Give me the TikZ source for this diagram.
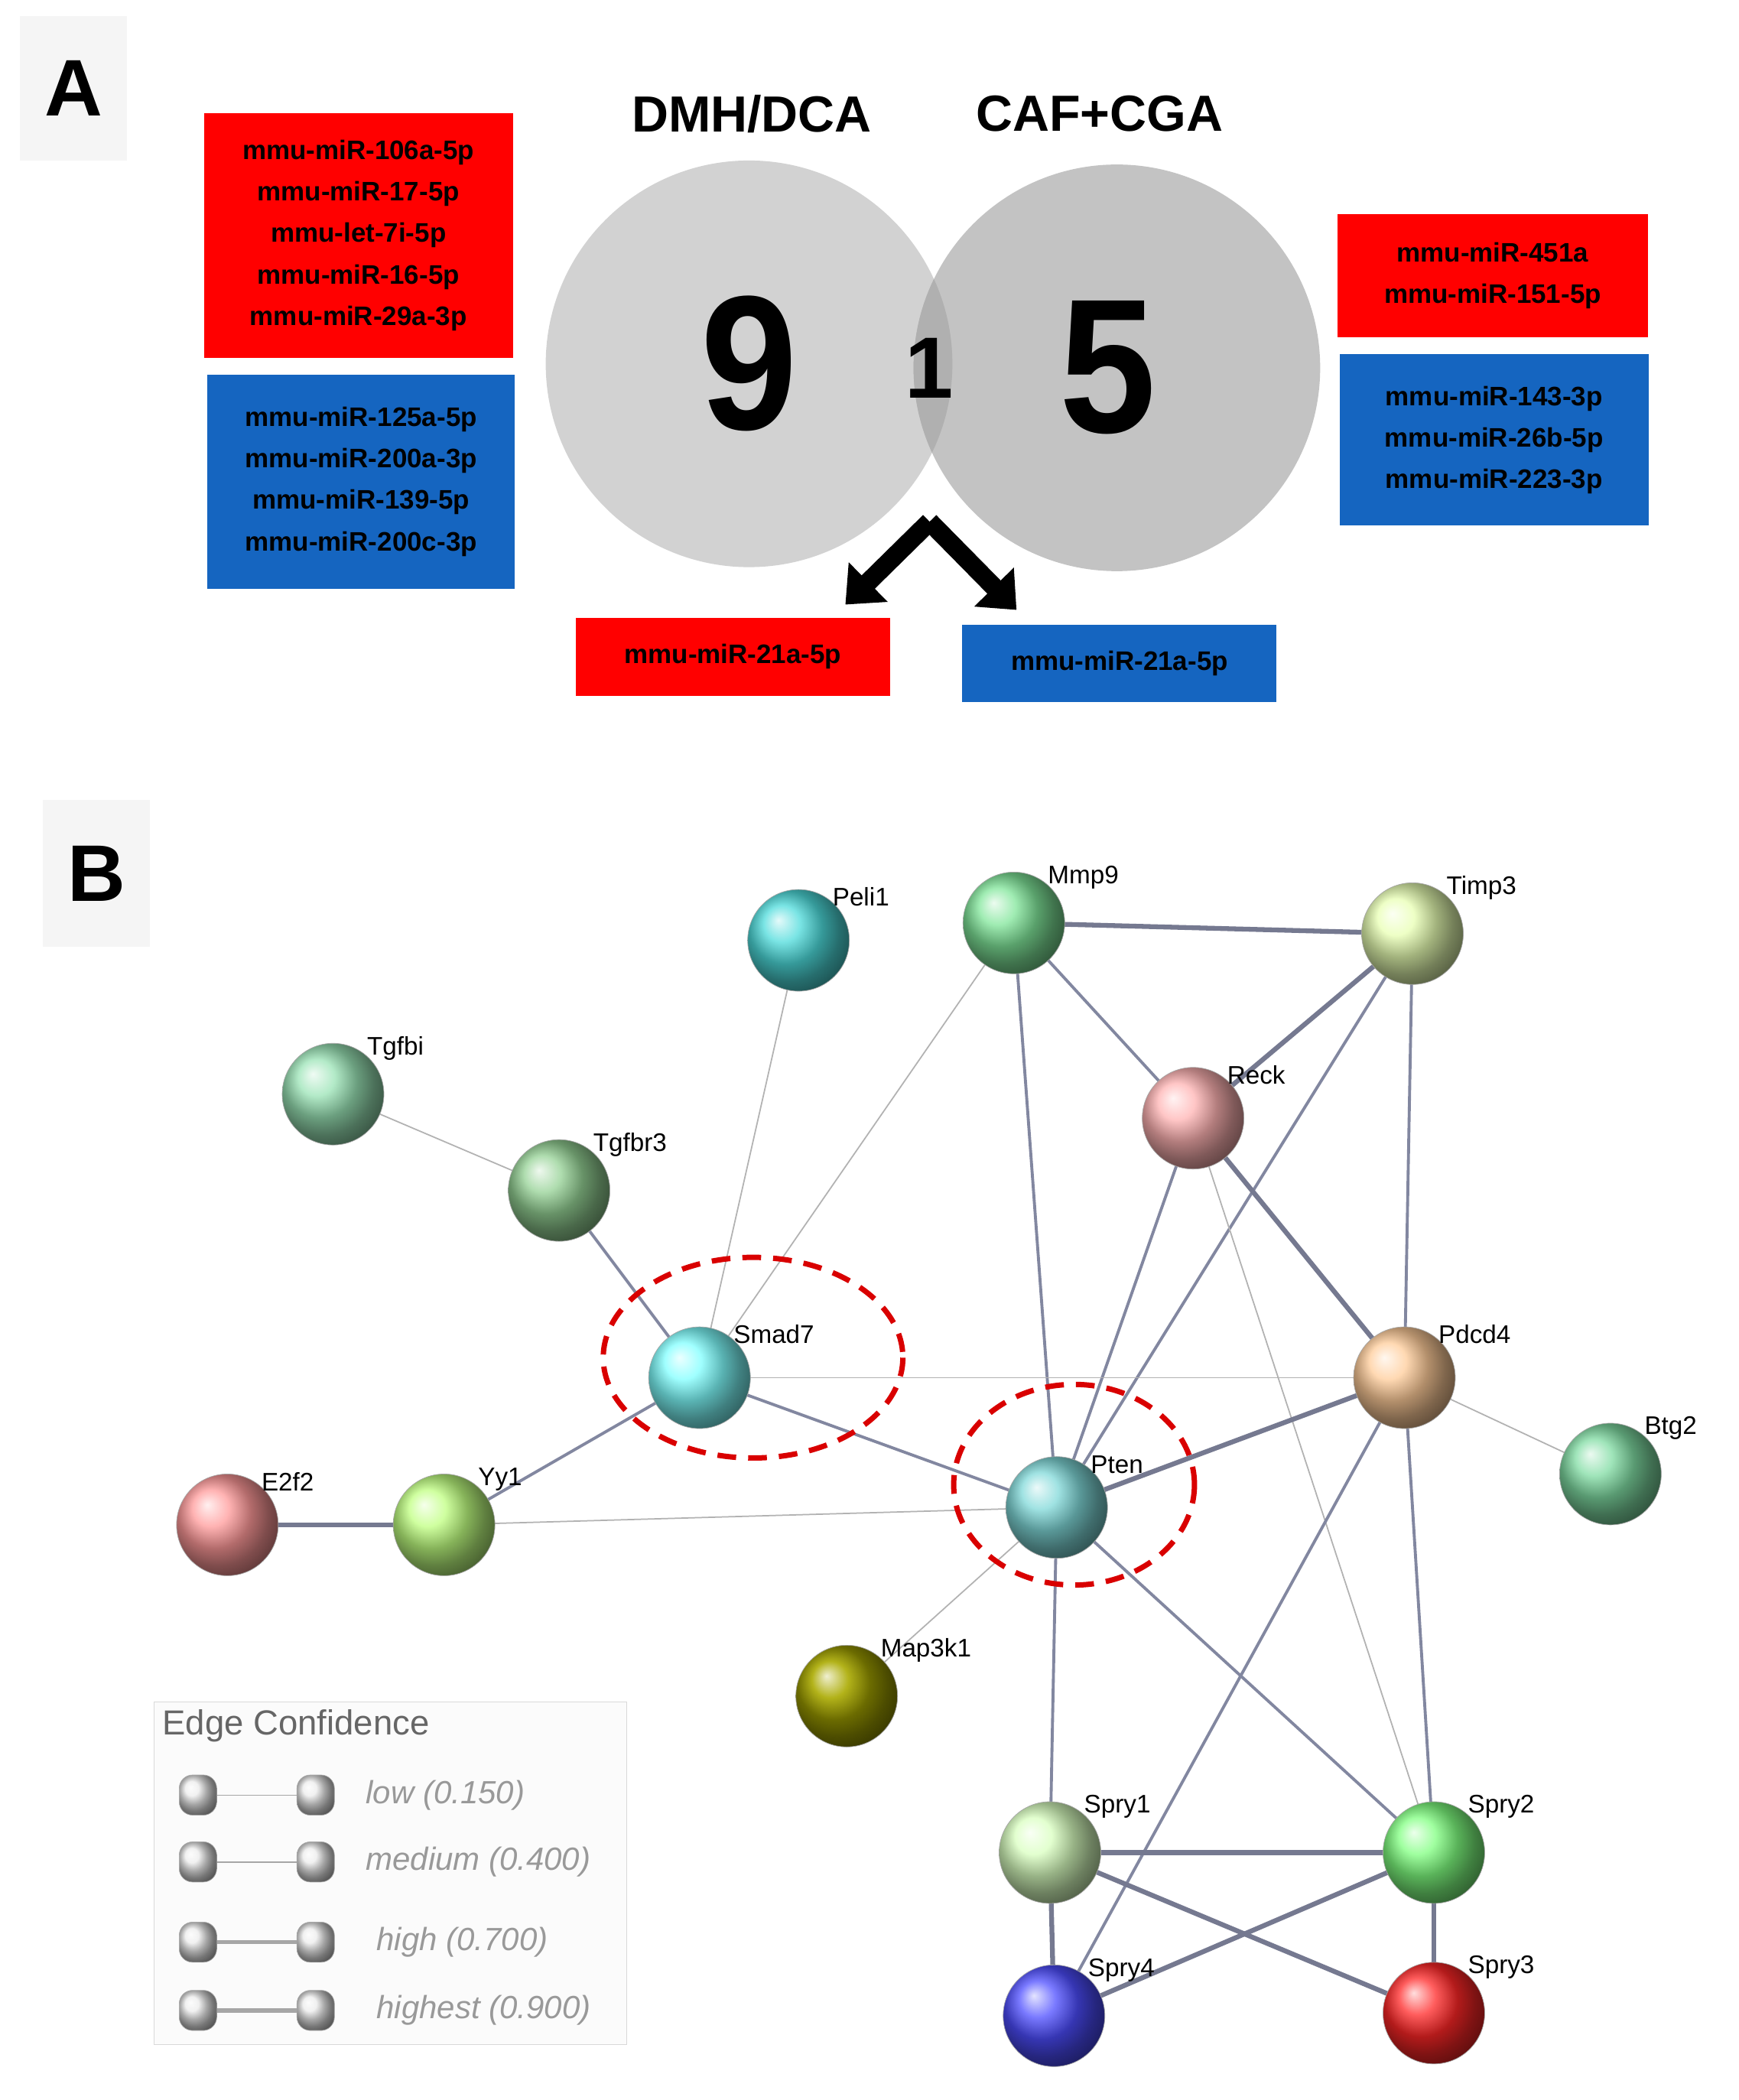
\documentclass[tikz,border=0pt]{standalone}
\usepackage{fontspec}
\setmainfont{Liberation Sans}
\usetikzlibrary{arrows.meta,shapes.geometric}
\definecolor{rd}{RGB}{255,0,0}
\definecolor{bl}{RGB}{21,101,192}
\definecolor{edg}{RGB}{130,135,160}
\tikzset{
 box/.style={draw=none,inner sep=0pt,align=center,font=\bfseries\fontsize{20}{31}\selectfont},
 ball/.style={circle,minimum size=76pt,inner sep=0pt,draw=gray!70,ball color=#1},
 lab/.style={font=\fontsize{19}{22}\selectfont,anchor=south west},
 thin/.style={draw=gray!60,line width=1pt},
 med/.style={draw=edg,line width=2.2pt},
 thk/.style={draw=edg!90!black,line width=3.6pt},
 leg/.style={font=\itshape\fontsize{24}{28}\selectfont,text=gray!80,anchor=west}
}
\begin{document}
\begin{tikzpicture}[x=1pt,y=-1pt]
\useasboundingbox[fill=white] (0,0) rectangle (1300,1570);
% Panel A
\node[fill=gray!8,minimum width=80pt,minimum height=108pt,font=\bfseries\fontsize{60}{60}\selectfont] (A) at (55,66) {A};
\node[box,fill=rd,minimum width=231pt,minimum height=183pt] (r1) at (268,176) {mmu-miR-106a-5p\\mmu-miR-17-5p\\mmu-let-7i-5p\\mmu-miR-16-5p\\mmu-miR-29a-3p};
\node[box,fill=bl,minimum width=230pt,minimum height=160pt] (b1) at (270,360) {mmu-miR-125a-5p\\mmu-miR-200a-3p\\mmu-miR-139-5p\\mmu-miR-200c-3p};
\fill[gray!35] (560,272) circle (152);
\fill[gray!55,opacity=0.85] (835,275) circle (152);
\begin{scope}
\clip (560,272) circle (152);
\fill[gray!62] (835,275) circle (152);
\end{scope}
\node[font=\bfseries\fontsize{38}{40}\selectfont] (t1) at (562,85) {DMH/DCA};
\node[font=\bfseries\fontsize{38}{40}\selectfont] (t2) at (822,85) {CAF+CGA};
\node[font=\bfseries\fontsize{130}{130}\selectfont,yscale=1.1] (n9) at (560,272) {9};
\node[font=\bfseries\fontsize{65}{65}\selectfont] (n1) at (695,275) {1};
\node[font=\bfseries\fontsize{130}{130}\selectfont,yscale=1.1] (n5) at (828,275) {5};
\node[box,fill=rd,minimum width=232pt,minimum height=92pt] (r2) at (1116,206) {mmu-miR-451a\\mmu-miR-151-5p};
\node[box,fill=bl,minimum width=231pt,minimum height=128pt] (b2) at (1117,329) {mmu-miR-143-3p\\mmu-miR-26b-5p\\mmu-miR-223-3p};
\node[box,fill=rd,minimum width=235pt,minimum height=58pt] (r3) at (548,491) {mmu-miR-21a-5p};
\node[box,fill=bl,minimum width=235pt,minimum height=58pt] (b3) at (837,496) {mmu-miR-21a-5p};
\coordinate (ap) at (695,390);
\draw[line width=14pt,-{Triangle[length=24pt,width=40pt]}] (ap) -- (632,452);
\draw[line width=14pt,-{Triangle[length=24pt,width=40pt]}] (ap) -- (760,456);
% Panel B
\node[fill=gray!8,minimum width=80pt,minimum height=110pt,font=\bfseries\fontsize{60}{60}\selectfont] (B) at (72,653) {B};
\foreach \n/\x/\y/\c in {Peli1/597/703/cyan!60!teal!70,Mmp9/758/690/teal!40!green!50,Timp3/1056/698/green!30!yellow!30,Tgfbi/249/818/green!45!teal!40,Tgfbr3/418/890/green!40!gray!60,Reck/892/836/red!30,Smad7/523/1030/cyan!50,Pdcd4/1050/1030/orange!40,Btg2/1204/1102/green!45!teal!50,E2f2/170/1140/red!40,Yy1/332/1140/yellow!50!green!50,Pten/790/1127/cyan!40!teal!50,Map3k1/633/1268/olive!80,Spry1/785/1385/yellow!40!green!25,Spry2/1072/1385/green!50,Spry4/788/1507/blue!70,Spry3/1072/1505/red!85}
 \coordinate (\n) at (\x,\y);
\foreach \a/\b/\s in {Peli1/Smad7/thin,Mmp9/Smad7/thin,Mmp9/Timp3/thk,Mmp9/Reck/med,Mmp9/Pten/med,Timp3/Reck/thk,Timp3/Pten/med,Timp3/Pdcd4/med,Tgfbi/Tgfbr3/thin,Tgfbr3/Smad7/med,Reck/Pten/med,Reck/Pdcd4/thk,Reck/Spry2/thin,Smad7/Pdcd4/thin,Smad7/Pten/med,Smad7/Yy1/med,E2f2/Yy1/thk,Yy1/Pten/thin,Pten/Pdcd4/thk,Pdcd4/Btg2/thin,Pdcd4/Spry2/med,Pdcd4/Spry4/med,Pten/Map3k1/thin,Pten/Spry1/med,Pten/Spry2/med,Spry1/Spry2/thk,Spry1/Spry4/thk,Spry1/Spry3/thk,Spry4/Spry2/thk,Spry2/Spry3/thk}
 \draw[\s] (\a) -- (\b);
\foreach \n/\x/\y/\c in {Peli1/597/703/cyan!60!teal!70,Mmp9/758/690/teal!40!green!50,Timp3/1056/698/green!30!yellow!30,Tgfbi/249/818/green!45!teal!40,Tgfbr3/418/890/green!40!gray!60,Reck/892/836/red!30,Smad7/523/1030/cyan!50,Pdcd4/1050/1030/orange!40,Btg2/1204/1102/green!45!teal!50,E2f2/170/1140/red!40,Yy1/332/1140/yellow!50!green!50,Pten/790/1127/cyan!40!teal!50,Map3k1/633/1268/olive!80,Spry1/785/1385/yellow!40!green!25,Spry2/1072/1385/green!50,Spry4/788/1507/blue!70,Spry3/1072/1505/red!85}
 {\node[ball=\c] (b\n) at (\n) {};
  \node[lab] (l\n) at (\x+22,\y-22) {\n};}
\draw[red!85!black,line width=4pt,dash pattern=on 14pt off 9pt] (563,1015) ellipse (112 and 75);
\draw[red!85!black,line width=4pt,dash pattern=on 14pt off 9pt] (803,1110) ellipse (90 and 75);
% legend
\node[draw=gray!30,fill=gray!3,minimum width=353pt,minimum height=256pt,anchor=north west] (L) at (115,1272) {};
\node[font=\fontsize{26}{30}\selectfont,text=gray!80!black,anchor=west] (lt) at (118,1290) {Edge Confidence};
\foreach \y/\w/\t/\xo in {1342/0.8/low (0.150)/270,1392/1.2/medium (0.400)/270,1452/2.5/high (0.700)/278,1503/3.6/highest (0.900)/278}{
 \draw[draw=gray!70,line width=\w pt] (148,\y) -- (236,\y);
 \node[draw=gray!70,ball color=gray!15,rounded corners=10pt,minimum width=28pt,minimum height=30pt,inner sep=0pt] (la\y) at (148,\y) {};
 \node[draw=gray!70,ball color=gray!15,rounded corners=10pt,minimum width=28pt,minimum height=30pt,inner sep=0pt] (lb\y) at (236,\y) {};
 \node[leg] (lx\y) at (\xo,\y) {\t};}
\end{tikzpicture}
\end{document}
